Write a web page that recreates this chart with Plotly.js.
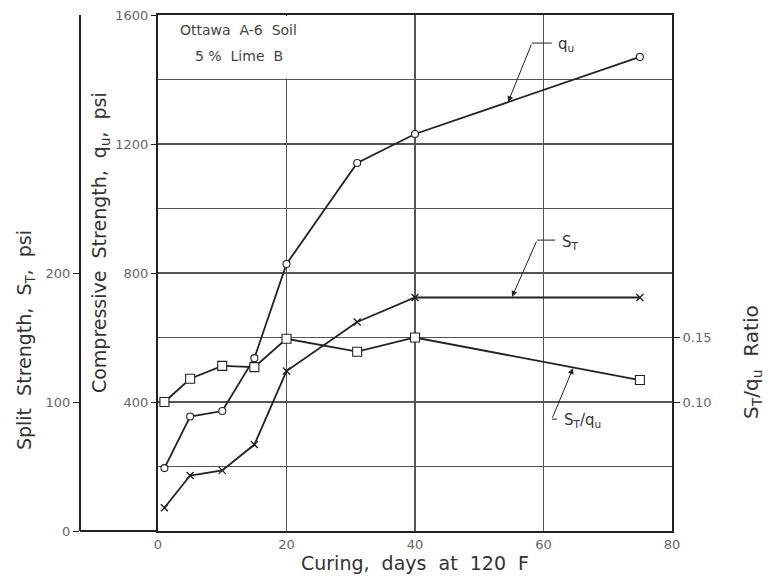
<!DOCTYPE html>
<html>
<head>
<meta charset="utf-8">
<script src="https://cdn.plot.ly/plotly-3.0.1.min.js"></script>
<style>html,body{margin:0;padding:0;background:#fff;}#chart{width:770px;height:579px;}</style>
</head>
<body>
<div id="chart"></div>
<script>
// ---- data ----
var curingDays = [1, 5, 10, 15, 20, 31, 40, 75];
var compressiveQu = [195, 355, 372, 536, 828, 1141, 1231, 1470];
var splitST = [18, 43, 47, 67, 124, 162, 181, 181];
var ratioSTqu = [0.100, 0.118, 0.128, 0.127, 0.149, 0.139, 0.150, 0.117];

var xTicks = [0, 20, 40, 60, 80];
var quTicks = [400, 800, 1200, 1600];
var stTicks = [0, 100, 200];
var ratioTicks = [0.10, 0.15];
var ratioTickText = ['0.10', '0.15'];

var INK = '#222';
var GRID = '#555';
var LBL = '#666';
var FONT = 'DejaVu Sans, sans-serif';

var traces = [
  {
    x: curingDays, y: compressiveQu, xaxis: 'x', yaxis: 'y',
    mode: 'lines+markers', name: 'q_u',
    line: {color: INK, width: 1.8},
    marker: {symbol: 'circle', size: 7, color: '#fff', line: {color: INK, width: 1.1}}
  },
  {
    x: curingDays, y: splitST, xaxis: 'x', yaxis: 'y2',
    mode: 'lines+markers', name: 'S_T',
    line: {color: INK, width: 1.8},
    marker: {symbol: 'x-thin-open', size: 7, color: INK, line: {color: INK, width: 1.4}}
  },
  {
    x: curingDays, y: ratioSTqu, xaxis: 'x', yaxis: 'y3',
    mode: 'lines+markers', name: 'S_T/q_u',
    line: {color: INK, width: 1.8},
    marker: {symbol: 'square', size: 9, color: '#fff', line: {color: INK, width: 1.1}}
  }
];

var xDomStart = 78 / 592;
var TITLE_FONT = {family: FONT, size: 19, color: '#333'};

var layout = {
  width: 770, height: 579,
  margin: {l: 80, r: 98, t: 15, b: 48, pad: 0},
  paper_bgcolor: '#fff', plot_bgcolor: '#fff',
  showlegend: false,
  font: {family: FONT, color: LBL, size: 13},
  xaxis: {
    domain: [xDomStart, 1], range: [0, 80],
    tickvals: xTicks, ticks: '', showline: true, mirror: true,
    linecolor: INK, linewidth: 2,
    showgrid: true, gridcolor: GRID, gridwidth: 1.3, zeroline: false,
    tickfont: {family: FONT, size: 13, color: LBL},
    title: {text: 'Curing,  days  at  120  F', font: TITLE_FONT, standoff: 6}
  },
  yaxis: {
    range: [0, 1600], tickvals: quTicks, ticks: 'outside', ticklen: 5, tickcolor: INK,
    showline: true, mirror: true, linecolor: INK, linewidth: 2,
    showgrid: false, zeroline: false,
    minor: {tickmode: 'linear', tick0: 0, dtick: 200, showgrid: true, gridcolor: GRID, gridwidth: 1.3, ticks: ''},
    tickfont: {family: FONT, size: 13, color: LBL}
  },
  yaxis2: {
    overlaying: 'y', anchor: 'free', position: 0, side: 'left',
    range: [0, 400], tickvals: stTicks, ticks: 'outside', ticklen: 6, tickcolor: INK,
    showline: true, linecolor: INK, linewidth: 2, showgrid: false, zeroline: false,
    tickfont: {family: FONT, size: 13, color: LBL}
  },
  yaxis3: {
    overlaying: 'y', anchor: 'x', side: 'right',
    range: [0, 0.4], tickvals: ratioTicks, ticktext: ratioTickText,
    ticks: 'outside', ticklen: 7, tickcolor: INK,
    showline: false, showgrid: false, zeroline: false,
    tickfont: {family: FONT, size: 13, color: LBL}
  },
  shapes: [
    // cover the grid behind the inset label box
    {type: 'rect', xref: 'x', yref: 'y', x0: 0.4, x1: 25, y0: 1404, y1: 1597,
     fillcolor: '#fff', line: {width: 0}, layer: 'between'},
    // bottom frame between the two left axes
    {type: 'line', xref: 'paper', yref: 'paper', x0: 0, x1: xDomStart, y0: 0, y1: 0,
     line: {color: INK, width: 2}},
    // leader segments
    {type: 'line', xref: 'x', yref: 'y', x0: 58.2, x1: 61.3, y0: 1513, y1: 1513, line: {color: INK, width: 1}},
    {type: 'line', xref: 'x', yref: 'y', x0: 59.0, x1: 61.8, y0: 902, y1: 902, line: {color: INK, width: 1}},
    {type: 'line', xref: 'x', yref: 'y', x0: 61.3, x1: 62.1, y0: 347, y1: 347, line: {color: INK, width: 1}}
  ],
  annotations: [
    // axis titles
    {xref: 'paper', yref: 'paper', x: -0.0929, y: 0.370, text: 'Split  Strength,  S<sub>T</sub>,  psi',
     textangle: -90, showarrow: false, xanchor: 'center', yanchor: 'middle', font: TITLE_FONT},
    {xref: 'paper', yref: 'paper', x: 0.0338, y: 0.558, text: 'Compressive  Strength,  q<sub>u</sub>,  psi',
     textangle: -90, showarrow: false, xanchor: 'center', yanchor: 'middle', font: TITLE_FONT},
    {xref: 'paper', yref: 'paper', x: 1.135, y: 0.3275, text: 'S<sub>T</sub>/q<sub>u</sub>  Ratio',
     textangle: -90, showarrow: false, xanchor: 'center', yanchor: 'middle', font: {family: FONT, size: 20, color: '#333'}},
    // inset label
    {xref: 'x', yref: 'y', x: 3.1, y: 1553, text: 'Ottawa  A-6  Soil', showarrow: false,
     xanchor: 'left', yanchor: 'middle', font: {family: FONT, size: 14, color: '#444'}},
    {xref: 'x', yref: 'y', x: 5.4, y: 1473, text: '5 %  Lime  B', showarrow: false,
     xanchor: 'left', yanchor: 'middle', font: {family: FONT, size: 14, color: '#444'}},
    // q_u leader arrow
    {xref: 'x', yref: 'y', axref: 'x', ayref: 'y', x: 54.5, y: 1330, ax: 58.2, ay: 1513,
     text: '', showarrow: true, arrowhead: 2, arrowsize: 1.2, arrowwidth: 1, arrowcolor: INK},
    {xref: 'x', yref: 'y', x: 61.9, y: 1507, text: 'q<sub>u</sub>', showarrow: false,
     xanchor: 'left', yanchor: 'middle', font: {family: FONT, size: 15, color: '#333'}},
    // S_T leader arrow
    {xref: 'x', yref: 'y', axref: 'x', ayref: 'y', x: 55.1, y: 726, ax: 59.0, ay: 902,
     text: '', showarrow: true, arrowhead: 2, arrowsize: 1.2, arrowwidth: 1, arrowcolor: INK},
    {xref: 'x', yref: 'y', x: 62.6, y: 896, text: 'S<sub>T</sub>', showarrow: false,
     xanchor: 'left', yanchor: 'middle', font: {family: FONT, size: 15, color: '#333'}},
    // S_T/q_u leader arrow
    {xref: 'x', yref: 'y', axref: 'x', ayref: 'y', x: 64.6, y: 505, ax: 61.3, ay: 347,
     text: '', showarrow: true, arrowhead: 2, arrowsize: 1.2, arrowwidth: 1, arrowcolor: INK},
    {xref: 'x', yref: 'y', x: 62.9, y: 342, text: 'S<sub>T</sub>/q<sub>u</sub>', showarrow: false,
     xanchor: 'left', yanchor: 'middle', font: {family: FONT, size: 15, color: '#333'}}
  ]
};

Plotly.newPlot('chart', traces, layout, {displayModeBar: false, staticPlot: true});
</script>
</body>
</html>
